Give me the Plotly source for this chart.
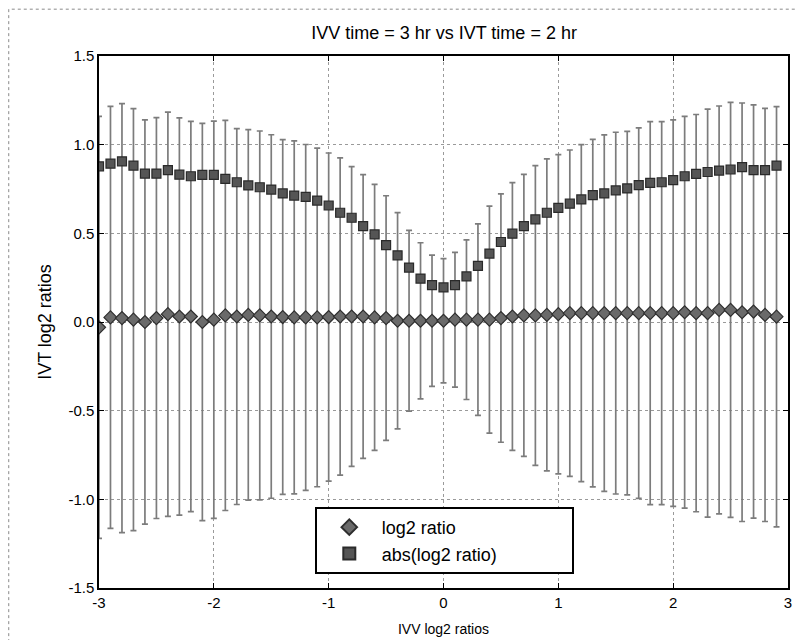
import plotly.graph_objects as go

# ---- data ----
x_vals = [round(-3.0 + 0.1 * i, 1) for i in range(60)]

log2_ratio = [
    -0.030, 0.026, 0.022, 0.013, 0.000, 0.022, 0.044, 0.031, 0.031, 0.000,
    0.013, 0.037, 0.031, 0.040, 0.037, 0.031, 0.028, 0.026, 0.026, 0.026,
    0.028, 0.031, 0.031, 0.031, 0.026, 0.022, 0.007, 0.007, 0.007, 0.007,
    0.007, 0.013, 0.013, 0.013, 0.013, 0.022, 0.031, 0.037, 0.037, 0.040,
    0.044, 0.050, 0.050, 0.050, 0.050, 0.050, 0.050, 0.050, 0.050, 0.050,
    0.050, 0.055, 0.050, 0.050, 0.068, 0.068, 0.055, 0.059, 0.040, 0.030,
]

log2_std = [
    1.190, 1.190, 1.210, 1.190, 1.140, 1.130, 1.140, 1.120, 1.100, 1.120,
    1.120, 1.100, 1.060, 1.045, 1.040, 1.025, 1.000, 0.995, 0.975, 0.955,
    0.925, 0.895, 0.845, 0.800, 0.750, 0.690, 0.610, 0.510, 0.440, 0.370,
    0.350, 0.380, 0.450, 0.540, 0.640, 0.700, 0.755, 0.795, 0.845, 0.880,
    0.900, 0.920, 0.950, 0.980, 1.005, 1.020, 1.025, 1.045, 1.080, 1.080,
    1.090, 1.105, 1.120, 1.150, 1.150, 1.170, 1.180, 1.165, 1.165, 1.185,
]

abs_log2_ratio = [
    0.878, 0.893, 0.906, 0.882, 0.837, 0.837, 0.856, 0.831, 0.822, 0.830,
    0.830, 0.807, 0.788, 0.770, 0.760, 0.747, 0.725, 0.713, 0.706, 0.685,
    0.657, 0.616, 0.588, 0.541, 0.494, 0.434, 0.376, 0.307, 0.245, 0.208,
    0.195, 0.208, 0.257, 0.317, 0.386, 0.451, 0.498, 0.541, 0.579, 0.616,
    0.644, 0.667, 0.691, 0.715, 0.725, 0.742, 0.753, 0.772, 0.785, 0.788,
    0.800, 0.822, 0.835, 0.846, 0.854, 0.860, 0.873, 0.856, 0.856, 0.882,
]

x_ticks = [-3, -2, -1, 0, 1, 2, 3]
x_tick_text = ["-3", "-2", "-1", "0", "1", "2", "3"]
y_ticks = [-1.5, -1.0, -0.5, 0.0, 0.5, 1.0, 1.5]
y_tick_text = ["-1.5", "-1.0", "-0.5", "0.0", "0.5", "1.0", "1.5"]

title_text = "IVV time = 3 hr vs IVT time = 2 hr"
x_title = "IVV log2 ratios"
y_title = "IVT log2 ratios"
series_names = ["log2 ratio", "abs(log2 ratio)"]

FONT = "Liberation Sans, Arial, sans-serif"
PAD = "\u00a0" * 14

fig = go.Figure()

fig.add_trace(go.Scatter(
    x=x_vals, y=log2_ratio, mode="markers", name=series_names[0] + PAD,
    marker=dict(symbol="diamond", size=10, color="#6a6a6a",
                line=dict(color="#2e2e2e", width=1.2)),
    error_y=dict(type="data", array=log2_std, visible=True,
                 color="#7c7c7c", thickness=1.7, width=3),
))

fig.add_trace(go.Scatter(
    x=x_vals, y=abs_log2_ratio, mode="markers", name=series_names[1] + PAD,
    marker=dict(symbol="square", size=9, color="#555555",
                line=dict(color="#2a2a2a", width=1.2)),
))

axis_common = dict(
    showline=True, linecolor="black", linewidth=1.5, mirror="ticks",
    ticks="inside", ticklen=5, tickwidth=1, tickcolor="black",
    showgrid=True, gridcolor="#9a9a9a", gridwidth=1, griddash="dot",
    zeroline=False, tickfont=dict(family=FONT, size=15, color="black"),
)

fig.update_xaxes(range=[-3, 3], tickvals=x_ticks, ticktext=x_tick_text,
                 title=dict(text=x_title, font=dict(family=FONT, size=14, color="black"),
                            standoff=14),
                 **axis_common)
fig.update_yaxes(range=[-1.5, 1.5], tickvals=y_ticks, ticktext=y_tick_text,
                 title=dict(text=y_title, font=dict(family=FONT, size=18, color="black"),
                            standoff=12),
                 **axis_common)

fig.update_layout(
    width=803, height=640,
    margin=dict(l=91, r=23, t=48, b=60),
    paper_bgcolor="white", plot_bgcolor="white",
    font=dict(family=FONT, color="black"),
    title=dict(text=title_text, x=0.543, xanchor="center", y=0.961, yanchor="middle",
               font=dict(family=FONT, size=18, color="black")),
    showlegend=True,
    legend=dict(x=0.3135, y=0.152, xanchor="left", yanchor="top",
                bgcolor="white", bordercolor="black", borderwidth=1.8,
                font=dict(family=FONT, size=18, color="black"),
                itemwidth=55, tracegroupgap=0, itemsizing="constant"),
    shapes=[dict(type="rect", xref="paper", yref="paper",
                 x0=-0.131, x1=1.05, y0=-0.15, y1=1.088,
                 line=dict(color="#8a8a8a", width=1, dash="dot"),
                 fillcolor="rgba(0,0,0,0)", layer="below")],
)

fig.write_html("out.html")
